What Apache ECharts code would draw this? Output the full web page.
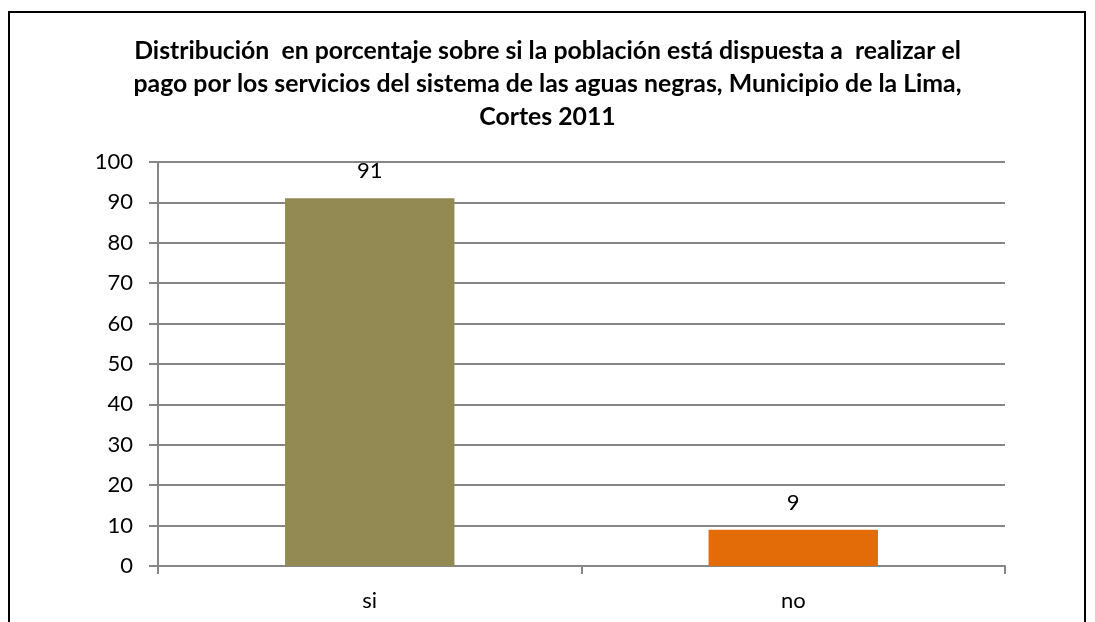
<!DOCTYPE html>
<html>
<head>
<meta charset="utf-8">
<script src="https://cdn.jsdelivr.net/npm/echarts@6/dist/echarts.min.js"></script>
<style>
  html, body { margin: 0; padding: 0; background: #fff; }
  #main { width: 1095px; height: 622px; }
</style>
</head>
<body>
<div id="main"></div>
<script>
// chart data
const categories = ['si', 'no']
const values = [91, 9]
const barColors = ['#938953', '#E36C09']
const yTicks = { min: 0, max: 100, interval: 10 }
const titleText = 'Distribución  en porcentaje sobre si la población está dispuesta a  realizar el\npago por los servicios del sistema de las aguas negras, Municipio de la Lima,\nCortes 2011'

const myChart = echarts.init(document.getElementById('main'))
const fontFamily = 'Lato, "Open Sans", sans-serif'

const option = {
  animation: false,
  backgroundColor: '#fff',
  textStyle: { fontFamily: fontFamily },
  title: {
    text: titleText,
    left: 'center',
    top: 30,
    textStyle: {
      fontFamily: fontFamily,
      fontSize: 24.8,
      fontWeight: 'bold',
      color: '#000',
      lineHeight: 33
    }
  },
  graphic: [
    {
      type: 'rect',
      shape: { x: 9, y: 12, width: 1076, height: 640 },
      style: { fill: 'none', stroke: '#000', lineWidth: 2 },
      silent: true
    }
  ],
  grid: {
    left: 158,
    right: 90,
    top: 162,
    bottom: 56
  },
  xAxis: {
    type: 'category',
    data: categories,
    axisLine: { show: true, lineStyle: { color: '#868686', width: 2 } },
    axisTick: { show: true, length: 8, lineStyle: { color: '#868686', width: 2 } },
    axisLabel: { color: '#000', fontSize: 22, margin: 24 }
  },
  yAxis: {
    type: 'value',
    min: yTicks.min,
    max: yTicks.max,
    interval: yTicks.interval,
    axisLine: { show: true, lineStyle: { color: '#868686', width: 2 } },
    axisTick: { show: true, length: 9, lineStyle: { color: '#868686', width: 2 } },
    axisLabel: { color: '#000', fontSize: 22, margin: 25 },
    splitLine: { show: true, lineStyle: { color: '#868686', width: 2 } }
  },
  series: [
    {
      type: 'bar',
      barWidth: '40%',
      data: values.map((v, i) => ({ value: v, itemStyle: { color: barColors[i] } })),
      label: {
        show: true,
        position: 'top',
        distance: 16,
        color: '#000',
        fontSize: 22
      }
    }
  ]
}
myChart.setOption(option)
</script>
</body>
</html>
